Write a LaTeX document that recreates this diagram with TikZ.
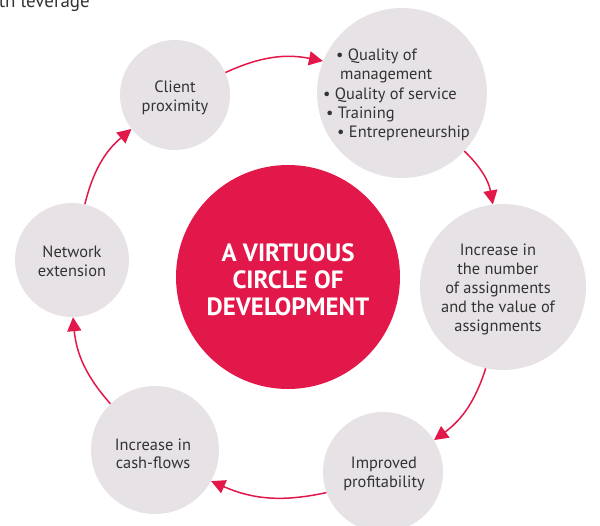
\documentclass[tikz,border=0pt]{standalone}
\usepackage{fontspec}
\setmainfont{PT Sans}
\usetikzlibrary{arrows.meta}
\definecolor{vred}{HTML}{E3184A}
\definecolor{vgrey}{HTML}{E7E2E6}
\definecolor{vtext}{HTML}{333333}
\begin{document}
\begin{tikzpicture}[x=1pt,y=-1pt,
  bubble/.style={circle,fill=vgrey,inner sep=0pt},
  lbl/.style={text=vtext,font=\fontsize{16.4}{19}\selectfont,inner sep=0pt,anchor=base},
  lblw/.style={lbl,anchor=base west},
  title/.style={text=white,font=\fontsize{25}{27}\selectfont\bfseries,inner sep=0pt,anchor=base},
  flow/.style={draw=vred,line width=1.5pt,-{Triangle[length=14pt,width=14pt]},bend left=18}]
\useasboundingbox (0,0) rectangle (600,526);
\clip (0,0) rectangle (600,526);
% circles
\node[circle,fill=vred,inner sep=0pt,minimum size=224pt] (core) at (288,277) {};
\node[bubble,minimum size=110pt] (client) at (175,95) {};
\node[bubble,minimum size=170pt] (quality) at (402,93) {};
\node[bubble,minimum size=166pt] (increase) at (503,287) {};
\node[bubble,minimum size=120pt] (improved) at (383,472) {};
\node[bubble,minimum size=128pt] (cash) at (155,450) {};
\node[bubble,minimum size=114pt] (network) at (72,260) {};
% top-left clipped text
\node[lbl,anchor=base east,font=\fontsize{19}{22}\selectfont] (lev) at (90,8) {th leverage};
% title
\node[title] (t1) at (288,262) {A VIRTUOUS};
\node[title] (t2) at (288,289) {CIRCLE OF};
\node[title] (t3) at (288,316) {DEVELOPMENT};
% client
\node[lbl] (c1) at (175,93) {Client};
\node[lbl] (c2) at (175,112) {proximity};
% quality
\node[lblw] (q1) at (336,61) {• Quality of};
\node[lblw] (q2) at (340,80) {management};
\node[lblw] (q3) at (323,100) {• Quality of service};
\node[lblw] (q4) at (326,119) {• Training};
\node[lblw] (q5) at (337,138) {• Entrepreneurship};
% increase
\node[lbl] (i1) at (498,256) {Increase in};
\node[lbl] (i2) at (498,275) {the number};
\node[lbl] (i3) at (498,294) {of assignments};
\node[lbl] (i4) at (498,313) {and the value of};
\node[lbl] (i5) at (498,332) {assignments};
% improved
\node[lbl] (p1) at (384,468) {Improved};
\node[lbl] (p2) at (384,487) {profitability};
% cash
\node[lbl] (f1) at (153,450) {Increase in};
\node[lbl] (f2) at (153,469) {cash-flows};
% network
\node[lbl] (n1) at (72,258) {Network};
\node[lbl] (n2) at (72,277) {extension};
% arrows
\draw[flow] (client.24) to (quality.158);
\draw[flow] (quality.-43) to (increase.97);
\draw[flow] (increase.258) to (improved.32);
\draw[flow] (improved.200) to (cash.-29);
\draw[flow] (cash.134) to (network.-89);
\draw[flow] (network.77) to (client.218);
\end{tikzpicture}
\end{document}
